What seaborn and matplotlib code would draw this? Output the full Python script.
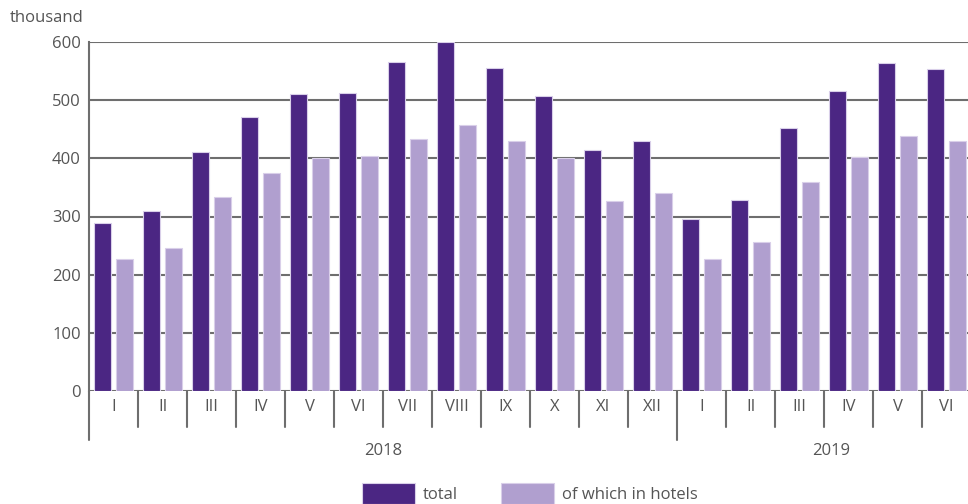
import matplotlib
matplotlib.use("Agg")
import matplotlib.pyplot as plt
import matplotlib.transforms as mtransforms
import seaborn as sns
import pandas as pd

months = ["I", "II", "III", "IV", "V", "VI", "VII", "VIII", "IX", "X", "XI", "XII",
          "I", "II", "III", "IV", "V", "VI"]
years = ["2018"] * 12 + ["2019"] * 6
total = [289, 309, 411, 471, 510, 512, 565, 600, 555, 507, 414, 430,
         295, 328, 452, 516, 564, 553]
hotels = [227, 246, 333, 374, 401, 404, 434, 457, 429, 401, 327, 340,
          227, 256, 359, 403, 438, 430]
series_names = ["total", "of which in hotels"]
colors = ["#4b2683", "#b09fcf"]
yticks = [0, 100, 200, 300, 400, 500, 600]

keys = [f"{y}-{m}" for y, m in zip(years, months)]
df = pd.DataFrame({
    "key": keys * 2,
    "value": total + hotels,
    "series": [series_names[0]] * len(keys) + [series_names[1]] * len(keys),
})

sns.set_style("white")
plt.rcParams["font.family"] = ["Open Sans", "DejaVu Sans"]
grey = "#6e6e6e"
tcol = "#555555"
fs = 12

fig = plt.figure(figsize=(9.68, 5.04), dpi=100)
ax = fig.add_axes([89 / 968, 113 / 504, 882 / 968, 349 / 504])

sns.barplot(data=df, x="key", y="value", hue="series", order=keys,
            hue_order=series_names, palette=colors, saturation=1, width=0.9,
            gap=0.2, edgecolor="#d9cfe9", linewidth=0.8, ax=ax, legend=True,
            zorder=3)

ax.set_ylim(0, 600)
ax.set_xlim(-0.5, len(keys) - 0.5)
ax.set_yticks(yticks)
ax.set_yticklabels([str(v) for v in yticks], fontsize=fs, color=tcol)
ax.tick_params(axis="y", length=0, pad=6)
ax.set_xticks([])
ax.set_xlabel("")
ax.set_ylabel("")
for v in yticks:
    ax.axhline(v, color=grey, lw=1.5, zorder=1)
for s in ["top", "right", "bottom"]:
    ax.spines[s].set_visible(False)
ax.spines["left"].set_color(grey)
ax.spines["left"].set_linewidth(1.5)

trans = mtransforms.blended_transform_factory(ax.transData, ax.transAxes)
for i, m in enumerate(months):
    ax.text(i, -0.046, m, transform=trans, ha="center", va="center",
            fontsize=fs, color=tcol)
# separators
for i in range(len(keys) + 1):
    xb = i - 0.5
    long_sep = (i == 0) or (0 < i < len(keys) and years[i] != years[i - 1])
    y1 = -0.140 if long_sep else -0.103
    ax.plot([xb, xb], [0, y1], transform=trans, color=grey, lw=1.5,
            clip_on=False, zorder=2)
# year labels
for yr in ["2018", "2019"]:
    idx = [i for i, y in enumerate(years) if y == yr]
    ax.text((idx[0] + idx[-1]) / 2 + (0.15 if yr == "2019" else 0), -0.172, yr,
            transform=trans, ha="center", va="center", fontsize=fs, color=tcol)

fig.text(10 / 968, 1 - 18 / 504, "thousand", ha="left", va="center",
         fontsize=fs, color=tcol)

handles, labels = ax.get_legend_handles_labels()
ax.get_legend().remove()
leg = fig.legend(handles, labels, loc="center", bbox_to_anchor=(0.547, 0.021),
                 ncol=2, frameon=False, fontsize=fs, handlelength=3.2,
                 handleheight=1.6, handletextpad=0.45, columnspacing=2.6,
                 borderpad=0.0)
for t in leg.get_texts():
    t.set_color(tcol)

fig.savefig("out.png", dpi=100)
